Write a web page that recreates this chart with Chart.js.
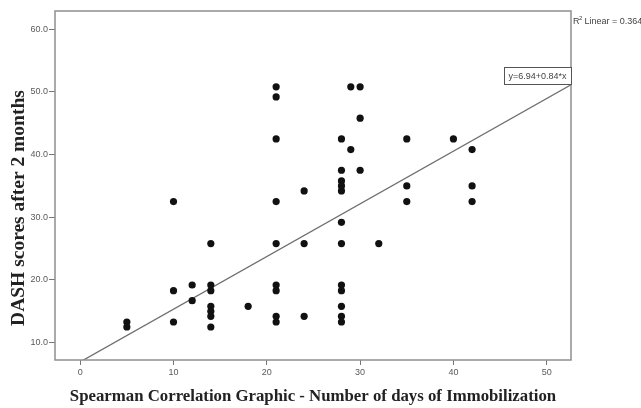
<!DOCTYPE html>
<html>
<head>
<meta charset="utf-8">
<script src="https://cdn.jsdelivr.net/npm/chart.js@4.4.1/dist/chart.umd.min.js"></script>
<style>
  html, body { margin: 0; padding: 0; background: #fff; }
  #wrap { width: 641px; height: 408px; position: relative; }
</style>
</head>
<body>
<div id="wrap"><canvas id="c" width="641" height="408"></canvas></div>
<script>
// Days of immobilization (x) and DASH score after 2 months (y)
const daysImmobilization = [
  5, 5,
  10, 10, 10,
  12, 12,
  14, 14, 14, 14, 14, 14, 14,
  18,
  21, 21, 21, 21, 21, 21, 21, 21, 21,
  24, 24, 24,
  28, 28, 28, 28, 28, 28, 28, 28, 28, 28, 28, 28,
  29, 29,
  30, 30, 30,
  32,
  35, 35, 35,
  40,
  42, 42, 42
];
const dashScores = [
  13.3, 12.5,
  32.5, 18.3, 13.3,
  19.2, 16.7,
  25.8, 19.2, 18.3, 15.8, 15.0, 14.2, 12.5,
  15.8,
  50.8, 49.2, 42.5, 32.5, 25.8, 19.2, 18.3, 14.2, 13.3,
  34.2, 25.8, 14.2,
  42.5, 37.5, 35.8, 35.0, 34.2, 29.2, 25.8, 19.2, 18.3, 15.8, 14.2, 13.3,
  50.8, 40.8,
  50.8, 45.8, 37.5,
  25.8,
  42.5, 35.0, 32.5,
  42.5,
  40.8, 35.0, 32.5
];
const fitIntercept = 6.94;
const fitSlope = 0.84;
const fitLabel = "y=6.94+0.84*x";
const r2Value = "0.364";
const xTicks = [0, 10, 20, 30, 40, 50];
const yTicks = [10, 20, 30, 40, 50, 60];
const xTitle = "Spearman Correlation Graphic - Number of days of Immobilization";
const yTitle = "DASH scores after 2 months";

const xMin = -2.7, xMax = 52.6, yMin = 7.24, yMax = 62.9;

const points = daysImmobilization.map((d, i) => ({ x: d, y: dashScores[i] }));
const fitLine = [xMin, xMax].map(x => ({ x: x, y: fitIntercept + fitSlope * x }));

const decor = {
  id: 'decor',
  afterDraw(chart) {
    const ctx = chart.ctx;
    const a = chart.chartArea;
    ctx.save();
    // frame
    ctx.strokeStyle = '#8f8f8f';
    ctx.lineWidth = 1.5;
    ctx.strokeRect(a.left, a.top, a.right - a.left, a.bottom - a.top);
    // y title
    ctx.fillStyle = '#222';
    ctx.font = 'bold 19.5px "Liberation Serif", "DejaVu Serif", serif';
    ctx.textAlign = 'center';
    ctx.textBaseline = 'middle';
    ctx.save();
    ctx.translate(19, 208);
    ctx.rotate(-Math.PI / 2);
    ctx.fillText(yTitle, 0, 0);
    ctx.restore();
    // x title
    ctx.font = 'bold 16.8px "Liberation Serif", "DejaVu Serif", serif';
    ctx.fillText(xTitle, (a.left + a.right) / 2, 397);
    // fit equation box
    ctx.font = '9px "Liberation Sans", Arial, sans-serif';
    const bx = 504, by = 67, bw = a.right - 504, bh = 17;
    ctx.fillStyle = '#fff';
    ctx.fillRect(bx, by, bw, bh);
    ctx.strokeStyle = '#555';
    ctx.lineWidth = 1;
    ctx.strokeRect(bx + 0.5, by + 0.5, bw, bh);
    ctx.fillStyle = '#444';
    ctx.fillText(fitLabel, bx + bw / 2, by + bh / 2 + 1);
    // R2 label
    ctx.textAlign = 'left';
    ctx.fillText('R', a.right + 2, 22);
    ctx.font = '6px "Liberation Sans", Arial, sans-serif';
    ctx.fillText('2', a.right + 8, 18);
    ctx.font = '9px "Liberation Sans", Arial, sans-serif';
    ctx.fillText(' Linear = ' + r2Value, a.right + 11, 22);
    ctx.restore();
  }
};

new Chart(document.getElementById('c'), {
  type: 'scatter',
  data: {
    datasets: [
      {
        label: 'Observed',
        data: points,
        backgroundColor: '#111',
        borderColor: '#111',
        pointRadius: 3.6,
        pointHoverRadius: 3.6,
        borderWidth: 0,
        order: 1
      },
      {
        label: 'Linear fit',
        type: 'line',
        data: fitLine,
        borderColor: '#6e6e6e',
        borderWidth: 1.3,
        pointRadius: 0,
        fill: false,
        order: 2
      }
    ]
  },
  options: {
    responsive: false,
    animation: false,
    devicePixelRatio: 1,
    layout: { padding: { top: 11, right: 70, left: 0, bottom: 0 } },
    plugins: { legend: { display: false }, tooltip: { enabled: false } },
    scales: {
      x: {
        type: 'linear',
        min: xMin, max: xMax,
        afterFit(s) { s.height = 48; },
        afterBuildTicks(s) { s.ticks = xTicks.map(v => ({ value: v })); },
        ticks: {
          color: '#5a5a5a',
          font: { family: '"Liberation Sans", Arial, sans-serif', size: 9 },
          padding: 2,
          maxRotation: 0,
          callback: v => String(v)
        },
        grid: { display: true, drawOnChartArea: false, drawTicks: true, tickLength: 5, color: '#777', lineWidth: 1 },
        border: { display: false }
      },
      y: {
        type: 'linear',
        min: yMin, max: yMax,
        afterFit(s) { s.width = 55; },
        afterBuildTicks(s) { s.ticks = yTicks.map(v => ({ value: v })); },
        ticks: {
          color: '#5a5a5a',
          font: { family: '"Liberation Sans", Arial, sans-serif', size: 9 },
          padding: 1,
          callback: v => Number(v).toFixed(1)
        },
        grid: { display: true, drawOnChartArea: false, drawTicks: true, tickLength: 6, color: '#777', lineWidth: 1 },
        border: { display: false }
      }
    }
  },
  plugins: [decor]
});
</script>
</body>
</html>
